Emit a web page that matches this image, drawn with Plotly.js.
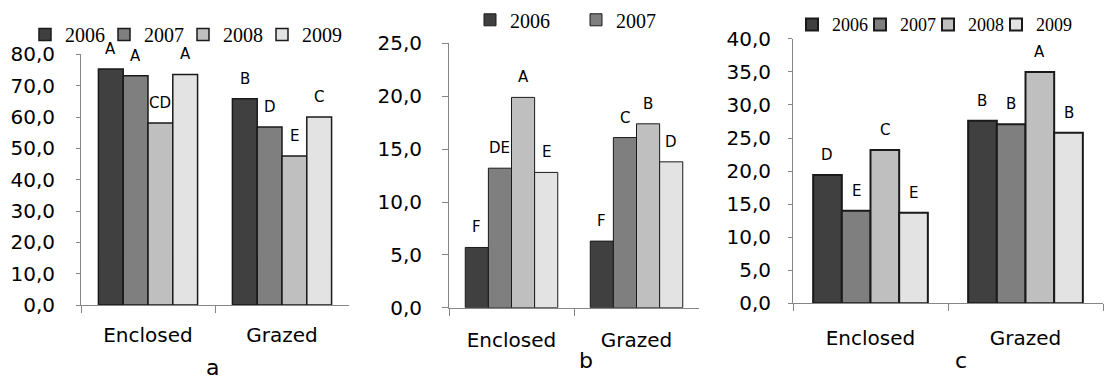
<!DOCTYPE html>
<html>
<head>
<meta charset="utf-8">
<script src="https://cdn.plot.ly/plotly-3.0.1.min.js"></script>
<style>html,body{margin:0;padding:0;background:#fff;}#chart{width:1105px;height:383px;}</style>
</head>
<body>
<div id="chart"></div>
<script>
// ---- data ----
const categories = ['Enclosed', 'Grazed'];
const years = ['2006', '2007', '2008', '2009'];

// panel a  (values per year: [Enclosed, Grazed])
const a2006 = [75.3, 65.8];
const a2007 = [73.2, 56.8];
const a2008 = [58.1, 47.6];
const a2009 = [73.6, 60.0];
const aLetters2006 = ['A', 'B'];
const aLetters2007 = ['A', 'D'];
const aLetters2008 = ['CD', 'E'];
const aLetters2009 = ['A', 'C'];

// panel b
const b2006 = [5.7, 6.3];
const b2007 = [13.2, 16.1];
const b2008 = [19.9, 17.4];
const b2009 = [12.8, 13.8];
const bLetters2006 = ['F', 'F'];
const bLetters2007 = ['DE', 'C'];
const bLetters2008 = ['A', 'B'];
const bLetters2009 = ['E', 'D'];

// panel c
const c2006 = [19.4, 27.6];
const c2007 = [14.0, 27.1];
const c2008 = [23.2, 35.0];
const c2009 = [13.7, 25.8];
const cLetters2006 = ['D', 'B'];
const cLetters2007 = ['E', 'B'];
const cLetters2008 = ['C', 'A'];
const cLetters2009 = ['E', 'B'];

const panelLabels = ['a', 'b', 'c'];

// ---- styling ----
const colors = ['#404040', '#7f7f7f', '#bfbfbf', '#e3e3e3'];
const W = 1105, H = 383;
const BARGAP = 0.26;
const sans = 'DejaVu Sans, Verdana, sans-serif';
const serif = 'Liberation Serif, Times New Roman, serif';

const panels = [
  { vals: [a2006, a2007, a2008, a2009], letters: [aLetters2006, aLetters2007, aLetters2008, aLetters2009],
    xs: 'x', ys: 'y', legend: 'legend', yrange: [0, 80], dtick: 10, lw: 1.5,
    legendYears: [true, true, true, true],
    xpx: [81, 349], ypx: [304, 50], ylen: 4, standoff: 17, xstand: 12,
    legendX: 25, legendY: 30, entry: 34, lfont: 20, lastW: 40,
    label: [212, 1, 'bottom'] },
  { vals: [b2006, b2007, b2008, b2009], letters: [bLetters2006, bLetters2007, bLetters2008, bLetters2009],
    xs: 'x2', ys: 'y2', legend: 'legend2', yrange: [0, 25], dtick: 5, lw: 1,
    legendYears: [true, true, false, false],
    xpx: [449, 699], ypx: [306.7, 39], ylen: 6, standoff: 16, xstand: 14,
    legendX: 470, legendY: 15, entry: 61, lfont: 20, lastW: 61,
    label: [586, 360, 'middle'] },
  { vals: [c2006, c2007, c2008, c2009], letters: [cLetters2006, cLetters2007, cLetters2008, cLetters2009],
    xs: 'x3', ys: 'y3', legend: 'legend3', yrange: [0, 40], dtick: 5, lw: 2,
    legendYears: [true, true, true, true],
    xpx: [793, 1103], ypx: [302.3, 34.3], ylen: 4, standoff: 13, xstand: 17,
    legendX: 792, legendY: 20, entry: 23, lfont: 18, lastW: 40,
    label: [961, 360, 'middle'] }
];

const traces = [];
const annotations = [];
const layout = {
  width: W, height: H,
  margin: { l: 0, r: 0, t: 0, b: 0 },
  paper_bgcolor: '#ffffff', plot_bgcolor: 'rgba(0,0,0,0)',
  barmode: 'group', bargap: BARGAP, bargroupgap: 0,
  separators: ',.',
  font: { family: sans, color: '#000000' },
  annotations: annotations
};

const barW = (1 - BARGAP) / years.length;

panels.forEach((p, pi) => {
  const sfx = pi === 0 ? '' : String(pi + 1);
  years.forEach((yr, i) => {
    const tr = {
      type: 'bar', name: yr, x: categories, y: p.vals[i],
      xaxis: p.xs, yaxis: p.ys, legend: p.legend,
      showlegend: p.legendYears[i],
      marker: { color: colors[i], line: { color: '#1a1a1a', width: p.lw } },
      hoverinfo: 'x+y+name'
    };
    if (i === years.length - 1) tr.legendwidth = p.lastW;
    traces.push(tr);
    categories.forEach((cat, j) => {
      annotations.push({
        xref: p.xs, yref: p.ys,
        x: j - (1 - BARGAP) / 2 + barW * (i + 0.5),
        y: p.vals[i][j], yshift: 20,
        text: p.letters[i][j], showarrow: false,
        xanchor: 'center', yanchor: 'middle',
        font: { family: sans, size: 15, color: '#000' }
      });
    });
  });
  layout['xaxis' + sfx] = {
    domain: [p.xpx[0] / W, p.xpx[1] / W],
    anchor: 'y' + sfx, type: 'category',
    showline: true, linecolor: '#868686', linewidth: 1,
    ticks: 'outside', tickson: 'boundaries', ticklen: 7, tickcolor: '#868686',
    showgrid: false, zeroline: false,
    tickfont: { family: sans, size: 20, color: '#000' },
    ticklabelstandoff: p.xstand, fixedrange: true
  };
  layout['yaxis' + sfx] = {
    domain: [1 - p.ypx[0] / H, 1 - p.ypx[1] / H],
    anchor: 'x' + sfx, range: p.yrange, dtick: p.dtick, tick0: 0,
    tickformat: '.1f',
    showline: true, linecolor: '#868686', linewidth: 1,
    ticks: 'outside', ticklen: p.ylen, tickcolor: '#868686',
    showgrid: false, zeroline: false,
    tickfont: { family: sans, size: 20, color: '#000' },
    ticklabelstandoff: p.standoff, fixedrange: true
  };
  layout[p.legend] = {
    orientation: 'h', x: p.legendX / W, xanchor: 'left',
    y: 1 - p.legendY / H, yanchor: 'middle',
    entrywidth: p.entry, entrywidthmode: 'pixels',
    font: { family: serif, size: p.lfont, color: '#000' },
    bgcolor: 'rgba(0,0,0,0)', borderwidth: 0, traceorder: 'normal'
  };
  annotations.push({
    xref: 'paper', yref: 'paper',
    x: p.label[0] / W, y: p.label[2] === 'bottom' ? p.label[1] / H : 1 - p.label[1] / H,
    text: panelLabels[pi], showarrow: false,
    xanchor: 'center', yanchor: p.label[2],
    font: { family: sans, size: 22, color: '#000' }
  });
});

Plotly.newPlot('chart', traces, layout, { displayModeBar: false });
</script>
</body>
</html>
